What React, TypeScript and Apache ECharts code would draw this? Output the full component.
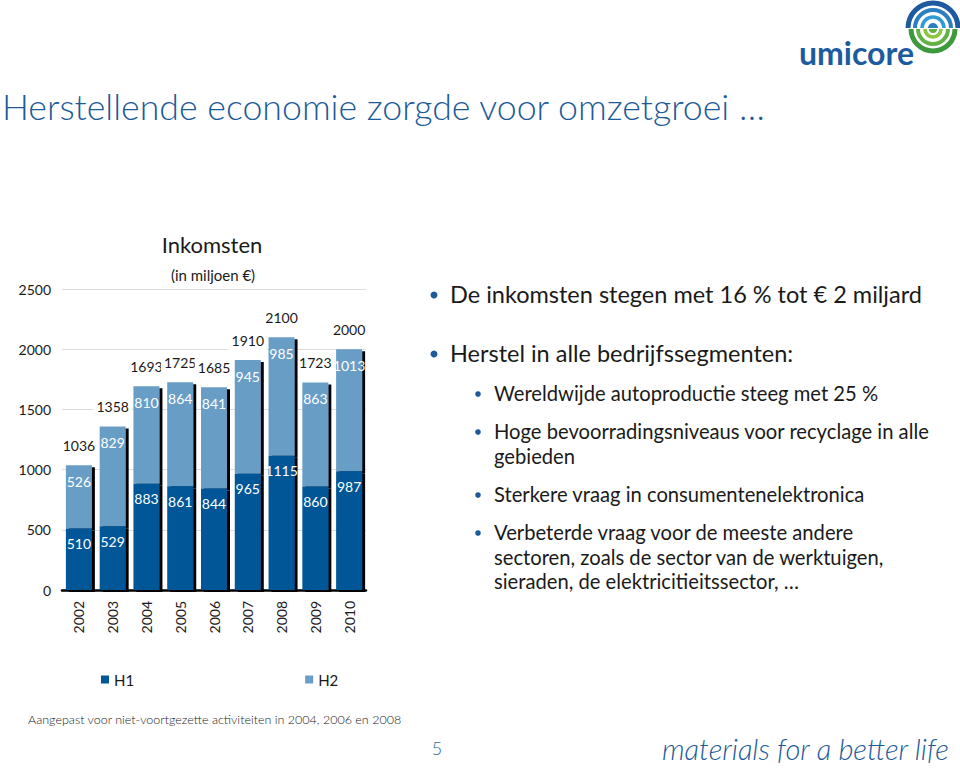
import React, { useEffect, useRef } from "react";
import * as echarts from "echarts";

const years = ["2002", "2003", "2004", "2005", "2006", "2007", "2008", "2009", "2010"];
const h1Values = [510, 529, 883, 861, 844, 965, 1115, 860, 987];
const h2Values = [526, 829, 810, 864, 841, 945, 985, 863, 1013];
const totalValues = [1036, 1358, 1693, 1725, 1685, 1910, 2100, 1723, 2000];
const seriesNames = ["H1", "H2"];

const pageTitle = "Herstellende economie zorgde voor omzetgroei …";
const chartTitle = "Inkomsten";
const chartSubtitle = "(in miljoen €)";
const footnote = "Aangepast voor niet-voortgezette activiteiten in 2004, 2006 en 2008";
const pageNumber = "5";
const tagline = "materials for a better life";
const mainBullets = [
  "De inkomsten stegen met 16 % tot € 2 miljard",
  "Herstel in alle bedrijfssegmenten:",
];
const subBullets = [
  ["Wereldwijde autoproductie steeg met 25 %"],
  ["Hoge bevoorradingsniveaus voor recyclage in alle", "gebieden"],
  ["Sterkere vraag in consumentenelektronica"],
  ["Verbeterde vraag voor de meeste andere", "sectoren, zoals de sector van de werktuigen,", "sieraden, de elektricitieitssector, …"],
];

const FONT = "Lato, 'Open Sans', sans-serif";
const DARK = "#005797";
const LIGHT = "#689dc6";
const BRAND = "#1c5a98";
const TEXT = "#1a1a1a";

export default function App() {
  const ref = useRef<HTMLDivElement>(null);
  useEffect(() => {
    document.body.style.margin = "0";
    if (!ref.current) return;
    const chart = echarts.init(ref.current, undefined, { renderer: "svg" });

    const graphics: any[] = [];
    graphics.push({
      type: "text", left: 2, top: 88,
      style: { text: pageTitle, font: `300 35.7px ${FONT}`, fill: BRAND },
    });
    graphics.push({
      type: "text", x: 212, y: 244,
      style: { text: chartTitle, font: `22px ${FONT}`, fill: TEXT, align: "center", verticalAlign: "middle" },
    });
    graphics.push({
      type: "text", x: 213, y: 275,
      style: { text: chartSubtitle, font: `15px ${FONT}`, fill: TEXT, align: "center", verticalAlign: "middle" },
    });
    graphics.push({
      type: "text", x: 28, y: 719,
      style: { text: footnote, font: `300 12.5px ${FONT}`, fill: "#222", verticalAlign: "middle" },
    });
    graphics.push({
      type: "text", x: 437, y: 748,
      style: { text: pageNumber, font: `300 18px ${FONT}`, fill: "#2b6d92", align: "center", verticalAlign: "middle" },
    });
    graphics.push({
      type: "text", x: 662, y: 748,
      style: { text: tagline, font: `italic 300 29px ${FONT}`, fill: BRAND, verticalAlign: "middle" },
    });
    const mainY = [294, 353];
    mainBullets.forEach((t, i) => {
      graphics.push({ type: "circle", shape: { cx: 434, cy: mainY[i] + 1, r: 3.5 }, style: { fill: BRAND } });
      graphics.push({
        type: "text", x: 450, y: mainY[i],
        style: { text: t, font: `23.5px ${FONT}`, fill: TEXT, verticalAlign: "middle" },
      });
    });
    const subY = [[393], [431, 456], [494], [532, 557, 581]];
    subBullets.forEach((lines, i) => {
      graphics.push({ type: "circle", shape: { cx: 478, cy: subY[i][0] + 1, r: 2.8 }, style: { fill: BRAND } });
      lines.forEach((t, j) => {
        graphics.push({
          type: "text", x: 494, y: subY[i][j],
          style: { text: t, font: `20.2px ${FONT}`, fill: TEXT, verticalAlign: "middle" },
        });
      });
    });
    graphics.push({
      type: "text", x: 799, y: 52,
      style: { text: "umicore", font: `bold 32px ${FONT}`, fill: "#1e5b9e", verticalAlign: "middle" },
    });
    const cx = 933, cy = 28;
    const blueArcs = [
      { r: 25, w: 5, c: "#1d5aa0" },
      { r: 18, w: 4, c: "#2b7fc0" },
      { r: 11, w: 3.5, c: "#2f9ad6" },
    ];
    blueArcs.forEach((a) =>
      graphics.push({
        type: "arc",
        shape: { cx, cy, r: a.r, startAngle: Math.PI, endAngle: Math.PI * 2, clockwise: true },
        style: { stroke: a.c, lineWidth: a.w, fill: "none" },
      })
    );
    const greenArcs = [
      { r: 22, w: 5, c: "#3d9a3c" },
      { r: 15, w: 4, c: "#62b246" },
      { r: 8, w: 3.5, c: "#8cc63f" },
    ];
    greenArcs.forEach((a) =>
      graphics.push({
        type: "arc",
        shape: { cx, cy: cy + 1, r: a.r, startAngle: 0, endAngle: Math.PI, clockwise: true },
        style: { stroke: a.c, lineWidth: a.w, fill: "none" },
      })
    );
    graphics.push({ type: "sector", shape: { cx, cy, r: 5, startAngle: Math.PI, endAngle: Math.PI * 2 }, style: { fill: "#2b7fc0" } });
    graphics.push({ type: "sector", shape: { cx, cy: cy + 1, r: 4, startAngle: 0, endAngle: Math.PI }, style: { fill: "#62b246" } });

    const option: any = {
      animation: false,
      backgroundColor: "#fff",
      textStyle: { fontFamily: FONT },
      grid: { left: 62, right: 594, top: 289, bottom: 190, containLabel: false },
      legend: {
        data: seriesNames,
        left: 96,
        top: 667,
        itemWidth: 8,
        itemHeight: 8,
        itemGap: 171,
        icon: "rect",
        textStyle: { fontSize: 15, color: TEXT, fontFamily: FONT },
        selectedMode: false,
      },
      xAxis: {
        type: "category",
        data: years,
        axisLine: { lineStyle: { color: "#000", width: 2.5 } },
        axisTick: { show: false },
        axisLabel: { rotate: 90, fontSize: 14, color: TEXT, margin: 11, fontFamily: FONT },
      },
      yAxis: {
        type: "value",
        min: 0,
        max: 2500,
        interval: 500,
        axisLine: { show: false },
        axisTick: { show: false },
        splitLine: { lineStyle: { color: "#dcdcdc", width: 1 } },
        axisLabel: { fontSize: 14, color: TEXT, margin: 11, fontFamily: FONT, formatter: (v: number) => String(v) },
      },
      series: [
        {
          name: seriesNames[0],
          type: "bar",
          stack: "total",
          data: h1Values,
          barWidth: 26,
          z: 3,
          itemStyle: { color: DARK, shadowColor: "#000", shadowOffsetX: 3, shadowOffsetY: 2, shadowBlur: 0 },
          label: { show: true, position: "insideTop", distance: 8, color: "#fff", fontSize: 14, fontFamily: FONT },
        },
        {
          name: seriesNames[1],
          type: "bar",
          stack: "total",
          data: h2Values,
          barWidth: 26,
          z: 2,
          itemStyle: { color: LIGHT, shadowColor: "#000", shadowOffsetX: 3, shadowOffsetY: 2, shadowBlur: 0 },
          label: { show: true, position: "insideTop", distance: 9, color: "#fff", fontSize: 14, fontFamily: FONT },
        },
        {
          name: "Totaal",
          type: "bar",
          data: totalValues,
          barWidth: 26,
          barGap: "-100%",
          z: 1,
          itemStyle: { color: "rgba(0,0,0,0)" },
          label: {
            show: true, position: "top", distance: 10, color: TEXT, fontSize: 14, fontFamily: FONT,
            backgroundColor: "#fff", padding: [5, 3, 3, 3],
          },
        },
      ],
      graphic: graphics,
    };
    chart.setOption(option);
    return () => chart.dispose();
  }, []);
  return <div ref={ref} style={{ width: 960, height: 780 }} />;
}
